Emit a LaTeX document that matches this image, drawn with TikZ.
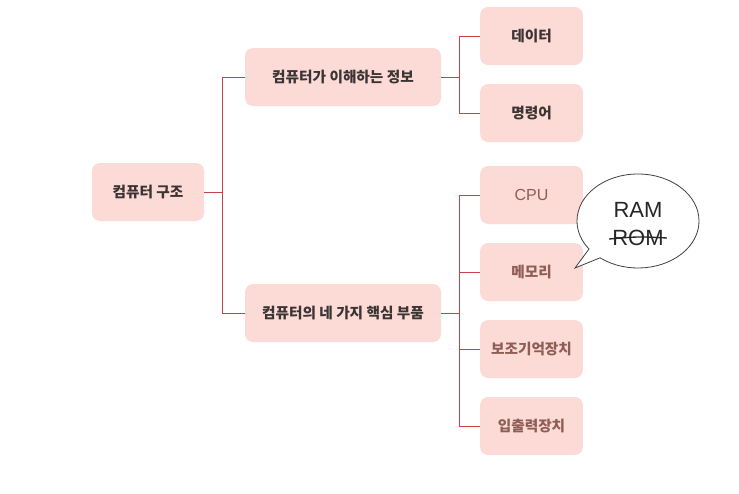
\documentclass[tikz,border=0pt]{standalone}
\usepackage{fontspec}
\setmainfont{Liberation Sans}
\newfontfamily\kr{Noto Sans CJK KR}
\usepackage{tikz}
\usetikzlibrary{shapes.callouts, positioning, calc}

\definecolor{boxpink}{HTML}{FCDAD6}
\definecolor{linkred}{HTML}{C8404A}
\definecolor{textdark}{HTML}{3A3434}
\definecolor{textbrown}{HTML}{8E5E56}

\begin{document}
\begin{tikzpicture}[
    x=0.75pt, y=-0.75pt,
    box/.style={rectangle, fill=boxpink, rounded corners=6pt, minimum height=43.5pt, align=center, font=\kr\bfseries\fontsize{11}{13}\selectfont, text=textdark, inner sep=0pt},
    leaf/.style={box, minimum width=77pt},
    part/.style={leaf, text=textbrown},
    link/.style={draw=linkred, line width=0.7pt}
]
\useasboundingbox (0,0) rectangle (739,493);

% Root
\node[box, minimum width=84pt] (root) at (148,192) {컴퓨터 구조};

% Second level
\node[box, minimum width=147pt] (info) at (343,77) {컴퓨터가 이해하는 정보};
\node[box, minimum width=147pt] (parts) at (343,313) {컴퓨터의 네 가지 핵심 부품};

% Leaves - information
\node[leaf] (data) at (531.5,36) {데이터};
\node[leaf] (cmd) at (531.5,113) {명령어};

% Leaves - parts
\node[part, font=\fontsize{12}{14}\selectfont] (cpu) at (531.5,195) {CPU};
\node[part] (mem) at (531.5,272) {메모리};
\node[part] (sto) at (531.5,349) {보조기억장치};
\node[part] (io) at (531.5,426) {입출력장치};

% Speech bubble
\coordinate (tip) at (575,268);
\node[ellipse callout, draw=black!75, fill=white, line width=0.6pt, minimum width=91.5pt, minimum height=70.5pt, callout absolute pointer={(tip)}] (bubble) at (638,221) {};
\node[font=\fontsize{16.5}{18}\selectfont, text=black!85, inner sep=0pt] (ram) at (638,210) {RAM};
\node[font=\fontsize{16.5}{18}\selectfont, text=black!85, inner sep=0pt] (rom) at (638,238) {ROM};
\draw[black!85, line width=1pt] ($(rom.west)+(-3,1)$) .. controls ($(rom.center)+(0,-1.5)$) .. ($(rom.east)+(3,0)$);

% Links - root
\draw[link] (root.east) -- ++(18,0) coordinate (rj) |- (info.west);
\draw[link] (rj) |- (parts.west);

% Links - information
\draw[link] (info.east) -- ++(18,0) coordinate (ij) |- (data.west);
\draw[link] (ij) |- (cmd.west);

% Links - parts
\draw[link] (parts.east) -- ++(18,0) coordinate (pj) |- (cpu.west);
\draw[link] (pj) |- (mem.west);
\draw[link] (pj) |- (sto.west);
\draw[link] (pj) |- (io.west);

\end{tikzpicture}
\end{document}
